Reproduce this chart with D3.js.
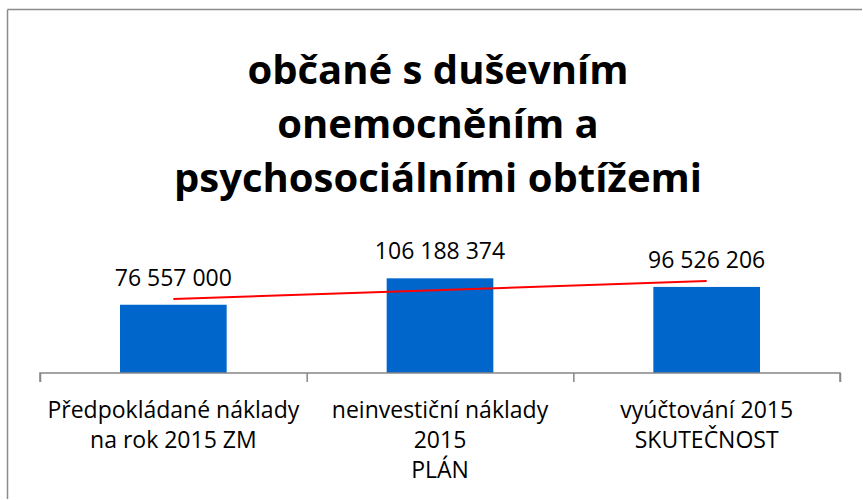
<!DOCTYPE html>
<html>
<head>
<meta charset="utf-8">
<script src="https://cdn.jsdelivr.net/npm/d3@7"></script>
<style>
  body { margin: 0; background: #fff; overflow: hidden; }
  svg { display: block; }
  text { font-family: "Open Sans", sans-serif; }
</style>
</head>
<body>
<svg width="863" height="500"></svg>
<script>
const titleLines = ['občané s duševním', 'onemocněním a', 'psychosociálními obtížemi'];
const categories = ['Předpokládané náklady\nna rok 2015 ZM', 'neinvestiční náklady\n2015\nPLÁN', 'vyúčtování 2015\nSKUTEČNOST'];
const values = [76557000, 106188374, 96526206];

const svg = d3.select('svg');
const width = +svg.attr('width');
const height = +svg.attr('height');

// chart frame: only top and left edges fall inside the picture
svg.append('line')
    .attr('x1', 7.5).attr('y1', 9.5).attr('x2', width - 1).attr('y2', 9.5)
    .attr('stroke', '#8c8c8c').attr('stroke-width', 1.5);
svg.append('line')
    .attr('x1', 7.5).attr('y1', 9.5).attr('x2', 7.5).attr('y2', height - 1)
    .attr('stroke', '#8c8c8c').attr('stroke-width', 1.5);

const margin = {left: 40, right: 23, top: 266, bottom: 127};
const innerWidth = width - margin.left - margin.right;
const innerHeight = height - margin.top - margin.bottom;

const g = svg.append('g')
    .attr('transform', `translate(${margin.left},${margin.top})`);

const xScale = d3.scaleBand()
    .domain(categories)
    .range([0, innerWidth])
    .paddingInner(0.6)
    .paddingOuter(0.3);

const yScale = d3.scaleLinear()
    .domain([0, 120000000])
    .range([innerHeight, 0]);

// bars
g.selectAll('rect.bar').data(values)
  .enter().append('rect')
    .attr('class', 'bar')
    .attr('x', (d, i) => xScale(categories[i]))
    .attr('y', d => yScale(d))
    .attr('width', xScale.bandwidth())
    .attr('height', d => innerHeight - yScale(d))
    .attr('fill', '#0066cc');

// value labels
const fmt = v => d3.format(',')(v).replace(/,/g, ' ');
g.selectAll('text.val').data(values)
  .enter().append('text')
    .attr('class', 'val')
    .attr('x', (d, i) => xScale(categories[i]) + xScale.bandwidth() / 2)
    .attr('y', d => yScale(d) - 19)
    .attr('text-anchor', 'middle')
    .attr('font-size', 23)
    .attr('fill', '#000')
    .text(fmt);

// linear trend line
const xs = values.map((d, i) => i + 1);
const mx = d3.mean(xs), my = d3.mean(values);
const slope = d3.sum(xs, (x, i) => (x - mx) * (values[i] - my)) / d3.sum(xs, x => (x - mx) ** 2);
const icpt = my - slope * mx;
const center = i => xScale(categories[i]) + xScale.bandwidth() / 2;
g.append('line')
    .attr('x1', center(0)).attr('y1', yScale(icpt + slope * 1))
    .attr('x2', center(2)).attr('y2', yScale(icpt + slope * 3))
    .attr('stroke', '#ff0000')
    .attr('stroke-width', 2);

// category axis: ticks between categories
const tickScale = d3.scaleLinear().domain([0, categories.length]).range([0, innerWidth]);
const axisG = g.append('g')
    .attr('transform', `translate(0,${innerHeight})`)
    .call(d3.axisBottom(tickScale).tickValues(d3.range(categories.length + 1)).tickSize(9).tickFormat(''));
axisG.selectAll('.tick text').remove();
axisG.selectAll('path, line').attr('stroke', '#868686').attr('stroke-width', 1.5);
axisG.select('.domain').attr('d', `M0,9V0H${innerWidth}V9`);

// category labels, one text per line
const labelLines = categories.flatMap(c => c.split('\n').map((line, k) => ({c, line, k})));
g.selectAll('text.cat').data(labelLines)
  .enter().append('text')
    .attr('class', 'cat')
    .attr('x', d => xScale(d.c) + xScale.bandwidth() / 2)
    .attr('y', d => innerHeight + 45 + d.k * 30)
    .attr('text-anchor', 'middle')
    .attr('font-size', 23)
    .attr('fill', '#000')
    .text(d => d.line);

// title
svg.selectAll('text.title').data(titleLines)
  .enter().append('text')
    .attr('class', 'title')
    .attr('x', 438)
    .attr('y', (d, i) => 84 + i * 54)
    .attr('text-anchor', 'middle')
    .attr('font-size', 40)
    .attr('font-weight', 'bold')
    .attr('fill', '#000')
    .text(d => d);
</script>
</body>
</html>
